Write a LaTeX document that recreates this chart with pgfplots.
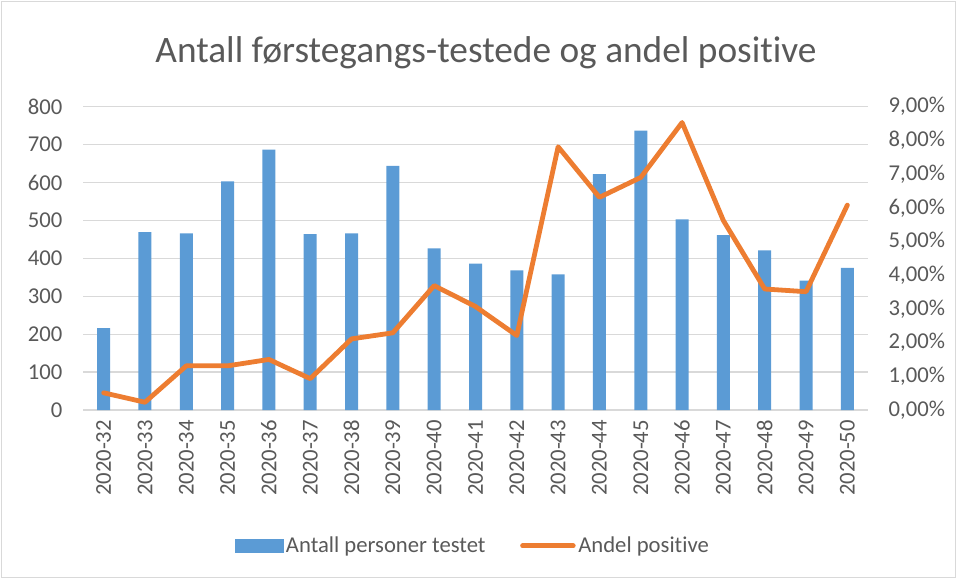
\documentclass[border=0pt]{standalone}
\usepackage{pgfplots}
\pgfplotsset{compat=1.18}
\usepackage{fontspec}
\setmainfont{Carlito}[Ligatures=CommonOff]
\definecolor{barblue}{HTML}{5B9BD5}
\definecolor{lineorange}{HTML}{ED7D31}
\definecolor{txtgray}{HTML}{595959}
\definecolor{gridgray}{HTML}{D9D9D9}
\begin{document}
\begin{tikzpicture}
\path[use as bounding box] (0,0) rectangle (717.75pt,434.25pt);
\draw[gridgray, line width=0.75pt] (1pt,1pt) rectangle (716.75pt,433.25pt);
\node[txtgray, font=\fontsize{28}{30}\selectfont, anchor=base] at (364.5pt,387pt) {Antall førstegangs-testede og andel positive};
\begin{axis}[
  at={(62.25pt,126.75pt)}, anchor=south west,
  scale only axis, width=588.75pt, height=227.5pt,
  xmin=-0.5, xmax=18.5, ymin=0, ymax=800,
  ytick={0,100,...,800},
  xtick={0,...,18},
  xticklabels={2020-32,2020-33,2020-34,2020-35,2020-36,2020-37,2020-38,2020-39,2020-40,2020-41,2020-42,2020-43,2020-44,2020-45,2020-46,2020-47,2020-48,2020-49,2020-50},
  xticklabel style={rotate=90, anchor=east, xshift=-4pt, font=\fontsize{17}{20}\selectfont, text=txtgray},
  yticklabel style={anchor=east, xshift=-12pt, font=\fontsize{17}{20}\selectfont, text=txtgray},
  /pgf/number format/assume math mode=true,
  axis line style={draw=none},
  major tick style={draw=none},
  ymajorgrids, grid style={gridgray, line width=1pt},
  clip=false,
]
\addplot[ybar, bar width=9.75pt, fill=barblue, draw=none] coordinates {
(0,216) (1,469) (2,466) (3,603) (4,687) (5,464) (6,466) (7,644) (8,426) (9,386)
(10,368) (11,358) (12,622) (13,737) (14,503) (15,461) (16,421) (17,341) (18,375)};
\end{axis}
\begin{axis}[
  at={(62.25pt,126.75pt)}, anchor=south west,
  scale only axis, width=588.75pt, height=227.5pt,
  xmin=-0.5, xmax=18.5, ymin=0, ymax=9,
  ytick={0,1,...,9},
  axis y line*=right, axis x line=none,
  axis line style={draw=none},
  major tick style={draw=none},
  yticklabel={\pgfmathprintnumber[fixed,fixed zerofill,precision=2,use comma]{\tick}\%},
  yticklabel style={anchor=west, xshift=12pt, font=\fontsize{17}{20}\selectfont, text=txtgray},
  /pgf/number format/assume math mode=true,
  legend columns=2,
  legend style={at={(0.497,-0.448)}, anchor=center, draw=none, fill=none,
    font=\fontsize{17}{20}\selectfont, text=txtgray,
    /tikz/every even column/.append style={column sep=24pt}},
  clip=false,
]
\addlegendimage{legend image code/.code={\fill[barblue] (0pt,-5pt) rectangle (36pt,5pt);}}
\addlegendentry{Antall personer testet}
\addplot[lineorange, line width=3.6pt, line join=round, line cap=round, mark=none,
  legend image code/.code={\draw[lineorange, line width=3.6pt, line cap=round] (0pt,0pt) -- (38pt,0pt);}] coordinates {
(0,0.51) (1,0.23) (2,1.31) (3,1.31) (4,1.50) (5,0.93) (6,2.11) (7,2.29) (8,3.69) (9,3.07)
(10,2.21) (11,7.81) (12,6.31) (13,6.90) (14,8.53) (15,5.62) (16,3.59) (17,3.51) (18,6.08)};
\addlegendentry{Andel positive}
\end{axis}
\end{tikzpicture}
\end{document}
